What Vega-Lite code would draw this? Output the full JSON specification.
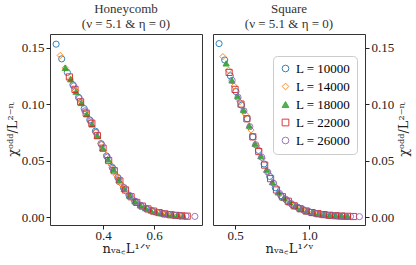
{
 "$schema": "https://vega.github.io/schema/vega-lite/v6.json",
 "padding": {"left": 5, "top": 2, "right": 0, "bottom": 0},
 "config": {
  "font": "Liberation Serif, serif",
  "view": {"stroke": "#333", "strokeWidth": 1},
  "axis": {"grid": false, "domain": false, "tickColor": "#222", "tickSize": 4, "labelFont": "Liberation Serif, serif", "labelFontSize": 13, "labelColor": "#222", "titleFont": "DejaVu Serif, serif", "titleFontSize": 13, "titleFontWeight": "normal", "titleColor": "#222", "labelPadding": 2, "titlePadding": 3},
  "axisX": {"labelPadding": 0, "titlePadding": 0},
  "title": {"font": "Liberation Serif, serif", "fontSize": 13, "fontWeight": "normal", "color": "#333", "offset": 3},
  "concat": {"spacing": 9}
 },
 "datasets": {
  "honeycomb": [
   {"L":10000,"x":0.216,"y":0.153},{"L":10000,"x":0.238,"y":0.140},{"L":10000,"x":0.26,"y":0.128},{"L":10000,"x":0.282,"y":0.117},{"L":10000,"x":0.304,"y":0.106},{"L":10000,"x":0.326,"y":0.096},{"L":10000,"x":0.348,"y":0.086},{"L":10000,"x":0.37,"y":0.076},{"L":10000,"x":0.392,"y":0.065},{"L":10000,"x":0.414,"y":0.054},{"L":10000,"x":0.436,"y":0.044},{"L":10000,"x":0.458,"y":0.035},{"L":10000,"x":0.48,"y":0.026},{"L":10000,"x":0.502,"y":0.019},{"L":10000,"x":0.524,"y":0.014},{"L":10000,"x":0.546,"y":0.0105},{"L":10000,"x":0.568,"y":0.0078},{"L":10000,"x":0.59,"y":0.0057},{"L":10000,"x":0.612,"y":0.0042},{"L":10000,"x":0.634,"y":0.0031},{"L":10000,"x":0.656,"y":0.0023},{"L":10000,"x":0.678,"y":0.0017},{"L":10000,"x":0.70,"y":0.0012},
   {"L":14000,"x":0.232,"y":0.143},{"L":14000,"x":0.252,"y":0.132},{"L":14000,"x":0.272,"y":0.122},{"L":14000,"x":0.292,"y":0.112},{"L":14000,"x":0.312,"y":0.102},{"L":14000,"x":0.332,"y":0.093},{"L":14000,"x":0.352,"y":0.084},{"L":14000,"x":0.372,"y":0.075},{"L":14000,"x":0.392,"y":0.065},{"L":14000,"x":0.412,"y":0.055},{"L":14000,"x":0.432,"y":0.046},{"L":14000,"x":0.452,"y":0.037},{"L":14000,"x":0.472,"y":0.029},{"L":14000,"x":0.492,"y":0.022},{"L":14000,"x":0.512,"y":0.017},{"L":14000,"x":0.532,"y":0.013},{"L":14000,"x":0.552,"y":0.0098},{"L":14000,"x":0.572,"y":0.0074},{"L":14000,"x":0.592,"y":0.0056},{"L":14000,"x":0.612,"y":0.0042},{"L":14000,"x":0.632,"y":0.0032},{"L":14000,"x":0.652,"y":0.0024},{"L":14000,"x":0.672,"y":0.0018},{"L":14000,"x":0.692,"y":0.0013},{"L":14000,"x":0.712,"y":0.0010},
   {"L":18000,"x":0.252,"y":0.132},{"L":18000,"x":0.273,"y":0.122},{"L":18000,"x":0.294,"y":0.111},{"L":18000,"x":0.315,"y":0.101},{"L":18000,"x":0.336,"y":0.091},{"L":18000,"x":0.357,"y":0.082},{"L":18000,"x":0.378,"y":0.072},{"L":18000,"x":0.399,"y":0.061},{"L":18000,"x":0.42,"y":0.051},{"L":18000,"x":0.441,"y":0.042},{"L":18000,"x":0.462,"y":0.033},{"L":18000,"x":0.483,"y":0.025},{"L":18000,"x":0.504,"y":0.019},{"L":18000,"x":0.525,"y":0.014},{"L":18000,"x":0.546,"y":0.0105},{"L":18000,"x":0.567,"y":0.0079},{"L":18000,"x":0.588,"y":0.0059},{"L":18000,"x":0.609,"y":0.0044},{"L":18000,"x":0.63,"y":0.0033},{"L":18000,"x":0.651,"y":0.0025},{"L":18000,"x":0.672,"y":0.0018},{"L":18000,"x":0.693,"y":0.0013},{"L":18000,"x":0.714,"y":0.0010},
   {"L":22000,"x":0.268,"y":0.124},{"L":22000,"x":0.29,"y":0.113},{"L":22000,"x":0.312,"y":0.102},{"L":22000,"x":0.334,"y":0.092},{"L":22000,"x":0.356,"y":0.083},{"L":22000,"x":0.378,"y":0.072},{"L":22000,"x":0.40,"y":0.061},{"L":22000,"x":0.422,"y":0.050},{"L":22000,"x":0.444,"y":0.041},{"L":22000,"x":0.466,"y":0.032},{"L":22000,"x":0.488,"y":0.024},{"L":22000,"x":0.51,"y":0.018},{"L":22000,"x":0.532,"y":0.013},{"L":22000,"x":0.554,"y":0.0097},{"L":22000,"x":0.576,"y":0.0072},{"L":22000,"x":0.598,"y":0.0053},{"L":22000,"x":0.62,"y":0.0040},{"L":22000,"x":0.642,"y":0.0029},{"L":22000,"x":0.664,"y":0.0021},{"L":22000,"x":0.686,"y":0.0015},{"L":22000,"x":0.708,"y":0.0011},{"L":22000,"x":0.73,"y":0.0008},
   {"L":26000,"x":0.285,"y":0.116},{"L":26000,"x":0.307,"y":0.105},{"L":26000,"x":0.329,"y":0.094},{"L":26000,"x":0.351,"y":0.085},{"L":26000,"x":0.373,"y":0.075},{"L":26000,"x":0.395,"y":0.064},{"L":26000,"x":0.417,"y":0.053},{"L":26000,"x":0.439,"y":0.043},{"L":26000,"x":0.461,"y":0.034},{"L":26000,"x":0.483,"y":0.026},{"L":26000,"x":0.505,"y":0.019},{"L":26000,"x":0.527,"y":0.014},{"L":26000,"x":0.549,"y":0.0102},{"L":26000,"x":0.571,"y":0.0076},{"L":26000,"x":0.593,"y":0.0056},{"L":26000,"x":0.615,"y":0.0041},{"L":26000,"x":0.637,"y":0.0030},{"L":26000,"x":0.659,"y":0.0022},{"L":26000,"x":0.681,"y":0.0016},{"L":26000,"x":0.703,"y":0.0012},{"L":26000,"x":0.725,"y":0.0009},{"L":26000,"x":0.76,"y":0.0006}
  ],
  "square": [
   {"L":10000,"x":0.392,"y":0.1535},{"L":10000,"x":0.43,"y":0.139},{"L":10000,"x":0.468,"y":0.125},{"L":10000,"x":0.506,"y":0.111},{"L":10000,"x":0.544,"y":0.099},{"L":10000,"x":0.582,"y":0.087},{"L":10000,"x":0.62,"y":0.071},{"L":10000,"x":0.658,"y":0.059},{"L":10000,"x":0.696,"y":0.047},{"L":10000,"x":0.734,"y":0.036},{"L":10000,"x":0.772,"y":0.026},{"L":10000,"x":0.81,"y":0.019},{"L":10000,"x":0.848,"y":0.015},{"L":10000,"x":0.886,"y":0.011},{"L":10000,"x":0.924,"y":0.0086},{"L":10000,"x":0.962,"y":0.0064},{"L":10000,"x":1.0,"y":0.0047},{"L":10000,"x":1.038,"y":0.0034},{"L":10000,"x":1.076,"y":0.0025},{"L":10000,"x":1.114,"y":0.0019},{"L":10000,"x":1.152,"y":0.0014},{"L":10000,"x":1.19,"y":0.0011},{"L":10000,"x":1.228,"y":0.0009},
   {"L":14000,"x":0.418,"y":0.142},{"L":14000,"x":0.456,"y":0.130},{"L":14000,"x":0.494,"y":0.116},{"L":14000,"x":0.532,"y":0.102},{"L":14000,"x":0.57,"y":0.091},{"L":14000,"x":0.608,"y":0.077},{"L":14000,"x":0.646,"y":0.063},{"L":14000,"x":0.684,"y":0.052},{"L":14000,"x":0.722,"y":0.040},{"L":14000,"x":0.76,"y":0.030},{"L":14000,"x":0.798,"y":0.021},{"L":14000,"x":0.836,"y":0.016},{"L":14000,"x":0.874,"y":0.012},{"L":14000,"x":0.912,"y":0.0094},{"L":14000,"x":0.95,"y":0.0070},{"L":14000,"x":0.988,"y":0.0051},{"L":14000,"x":1.026,"y":0.0038},{"L":14000,"x":1.064,"y":0.0028},{"L":14000,"x":1.102,"y":0.0021},{"L":14000,"x":1.14,"y":0.0016},{"L":14000,"x":1.178,"y":0.0012},{"L":14000,"x":1.216,"y":0.0009},{"L":14000,"x":1.254,"y":0.0007},
   {"L":18000,"x":0.44,"y":0.136},{"L":18000,"x":0.479,"y":0.121},{"L":18000,"x":0.518,"y":0.107},{"L":18000,"x":0.557,"y":0.095},{"L":18000,"x":0.596,"y":0.081},{"L":18000,"x":0.635,"y":0.065},{"L":18000,"x":0.674,"y":0.054},{"L":18000,"x":0.713,"y":0.042},{"L":18000,"x":0.752,"y":0.031},{"L":18000,"x":0.791,"y":0.022},{"L":18000,"x":0.83,"y":0.017},{"L":18000,"x":0.869,"y":0.013},{"L":18000,"x":0.908,"y":0.0097},{"L":18000,"x":0.947,"y":0.0072},{"L":18000,"x":0.986,"y":0.0052},{"L":18000,"x":1.025,"y":0.0038},{"L":18000,"x":1.064,"y":0.0028},{"L":18000,"x":1.103,"y":0.0021},{"L":18000,"x":1.142,"y":0.0016},{"L":18000,"x":1.181,"y":0.0012},{"L":18000,"x":1.22,"y":0.0009},{"L":18000,"x":1.259,"y":0.0007},
   {"L":22000,"x":0.46,"y":0.128},{"L":22000,"x":0.50,"y":0.113},{"L":22000,"x":0.54,"y":0.100},{"L":22000,"x":0.58,"y":0.087},{"L":22000,"x":0.62,"y":0.071},{"L":22000,"x":0.66,"y":0.058},{"L":22000,"x":0.70,"y":0.046},{"L":22000,"x":0.74,"y":0.034},{"L":22000,"x":0.78,"y":0.024},{"L":22000,"x":0.82,"y":0.018},{"L":22000,"x":0.86,"y":0.014},{"L":22000,"x":0.90,"y":0.010},{"L":22000,"x":0.94,"y":0.0074},{"L":22000,"x":0.98,"y":0.0054},{"L":22000,"x":1.02,"y":0.0040},{"L":22000,"x":1.06,"y":0.0030},{"L":22000,"x":1.10,"y":0.0022},{"L":22000,"x":1.14,"y":0.0016},{"L":22000,"x":1.18,"y":0.0012},{"L":22000,"x":1.22,"y":0.0009},{"L":22000,"x":1.26,"y":0.0007},{"L":22000,"x":1.30,"y":0.0005},
   {"L":26000,"x":0.48,"y":0.121},{"L":26000,"x":0.52,"y":0.106},{"L":26000,"x":0.56,"y":0.094},{"L":26000,"x":0.60,"y":0.080},{"L":26000,"x":0.64,"y":0.064},{"L":26000,"x":0.68,"y":0.053},{"L":26000,"x":0.72,"y":0.040},{"L":26000,"x":0.76,"y":0.030},{"L":26000,"x":0.80,"y":0.021},{"L":26000,"x":0.84,"y":0.016},{"L":26000,"x":0.88,"y":0.012},{"L":26000,"x":0.92,"y":0.0089},{"L":26000,"x":0.96,"y":0.0065},{"L":26000,"x":1.00,"y":0.0047},{"L":26000,"x":1.04,"y":0.0034},{"L":26000,"x":1.08,"y":0.0025},{"L":26000,"x":1.12,"y":0.0018},{"L":26000,"x":1.16,"y":0.0013},{"L":26000,"x":1.20,"y":0.0010},{"L":26000,"x":1.24,"y":0.0008},{"L":26000,"x":1.28,"y":0.0006},{"L":26000,"x":1.34,"y":0.0004}
  ]
 },
 "hconcat": [
  {
   "width": 152, "height": 191,
   "title": {"text": ["Honeycomb", "(ν = 5.1 & η = 0)"]},
   "data": {"name": "honeycomb"},
   "mark": {"type": "point", "size": 38, "strokeWidth": 1, "opacity": 0.9},
   "encoding": {
    "x": {"field": "x", "type": "quantitative", "scale": {"domain": [0.192, 0.788], "nice": false, "zero": false}, "axis": {"values": [0.4, 0.6], "format": ".1f", "title": "nᵥₐ꜀L¹ᐟᵛ"}},
    "y": {"field": "y", "type": "quantitative", "scale": {"domain": [-0.007, 0.162], "nice": false, "zero": false}, "axis": {"values": [0, 0.05, 0.1, 0.15], "format": ".2f", "title": "χᵒᵈᵈ/L²⁻ᶯ", "titlePadding": 2}},
    "stroke": {"field": "L", "type": "nominal", "scale": {"domain": [10000, 14000, 18000, 22000, 26000], "range": ["#1f77b4", "#ff7f0e", "#2ca02c", "#d62728", "#9467bd"]}, "legend": null},
    "fill": {"field": "L", "type": "nominal", "scale": {"domain": [10000, 14000, 18000, 22000, 26000], "range": ["transparent", "transparent", "#2ca02c", "transparent", "transparent"]}, "legend": null},
    "shape": {"field": "L", "type": "nominal", "scale": {"domain": [10000, 14000, 18000, 22000, 26000], "range": ["circle", "diamond", "triangle-up", "square", "circle"]}, "legend": null}
   }
  },
  {
   "width": 152, "height": 191,
   "title": {"text": ["Square", "(ν = 5.1 & η = 0)"]},
   "data": {"name": "square"},
   "mark": {"type": "point", "size": 38, "strokeWidth": 1, "opacity": 0.9},
   "encoding": {
    "x": {"field": "x", "type": "quantitative", "scale": {"domain": [0.351, 1.378], "nice": false, "zero": false}, "axis": {"values": [0.5, 1.0], "format": ".1f", "title": "nᵥₐ꜀L¹ᐟᵛ"}},
    "y": {"field": "y", "type": "quantitative", "scale": {"domain": [-0.007, 0.162], "nice": false, "zero": false}, "axis": {"orient": "right", "values": [0, 0.05, 0.1, 0.15], "format": ".2f", "title": "χᵒᵈᵈ/L²⁻ᶯ", "titleAngle": 270, "titleBaseline": "top", "titlePadding": 4}},
    "stroke": {"field": "L", "type": "nominal", "scale": {"domain": [10000, 14000, 18000, 22000, 26000], "range": ["#1f77b4", "#ff7f0e", "#2ca02c", "#d62728", "#9467bd"]}, "legend": {"title": null, "orient": "none", "legendX": 60, "legendY": 22, "labelExpr": "'L = ' + datum.label", "labelFont": "Liberation Serif, serif", "labelFontSize": 13, "strokeColor": "#ccc", "fillColor": "white", "cornerRadius": 4, "padding": 6, "rowPadding": 4, "symbolSize": 45, "symbolStrokeWidth": 1}},
    "fill": {"field": "L", "type": "nominal", "scale": {"domain": [10000, 14000, 18000, 22000, 26000], "range": ["transparent", "transparent", "#2ca02c", "transparent", "transparent"]}, "legend": {"title": null, "orient": "none", "legendX": 60, "legendY": 22, "labelExpr": "'L = ' + datum.label", "labelFont": "Liberation Serif, serif", "labelFontSize": 13, "strokeColor": "#ccc", "fillColor": "white", "cornerRadius": 4, "padding": 6, "rowPadding": 4, "symbolSize": 45, "symbolStrokeWidth": 1}},
    "shape": {"field": "L", "type": "nominal", "scale": {"domain": [10000, 14000, 18000, 22000, 26000], "range": ["circle", "diamond", "triangle-up", "square", "circle"]}, "legend": {"title": null, "orient": "none", "legendX": 60, "legendY": 22, "labelExpr": "'L = ' + datum.label", "labelFont": "Liberation Serif, serif", "labelFontSize": 13, "strokeColor": "#ccc", "fillColor": "white", "cornerRadius": 4, "padding": 6, "rowPadding": 4, "symbolSize": 45, "symbolStrokeWidth": 1}}
   }
  }
 ],
 "resolve": {"scale": {"stroke": "independent", "fill": "independent", "shape": "independent"}, "legend": {"stroke": "independent", "fill": "independent", "shape": "independent"}}
}
